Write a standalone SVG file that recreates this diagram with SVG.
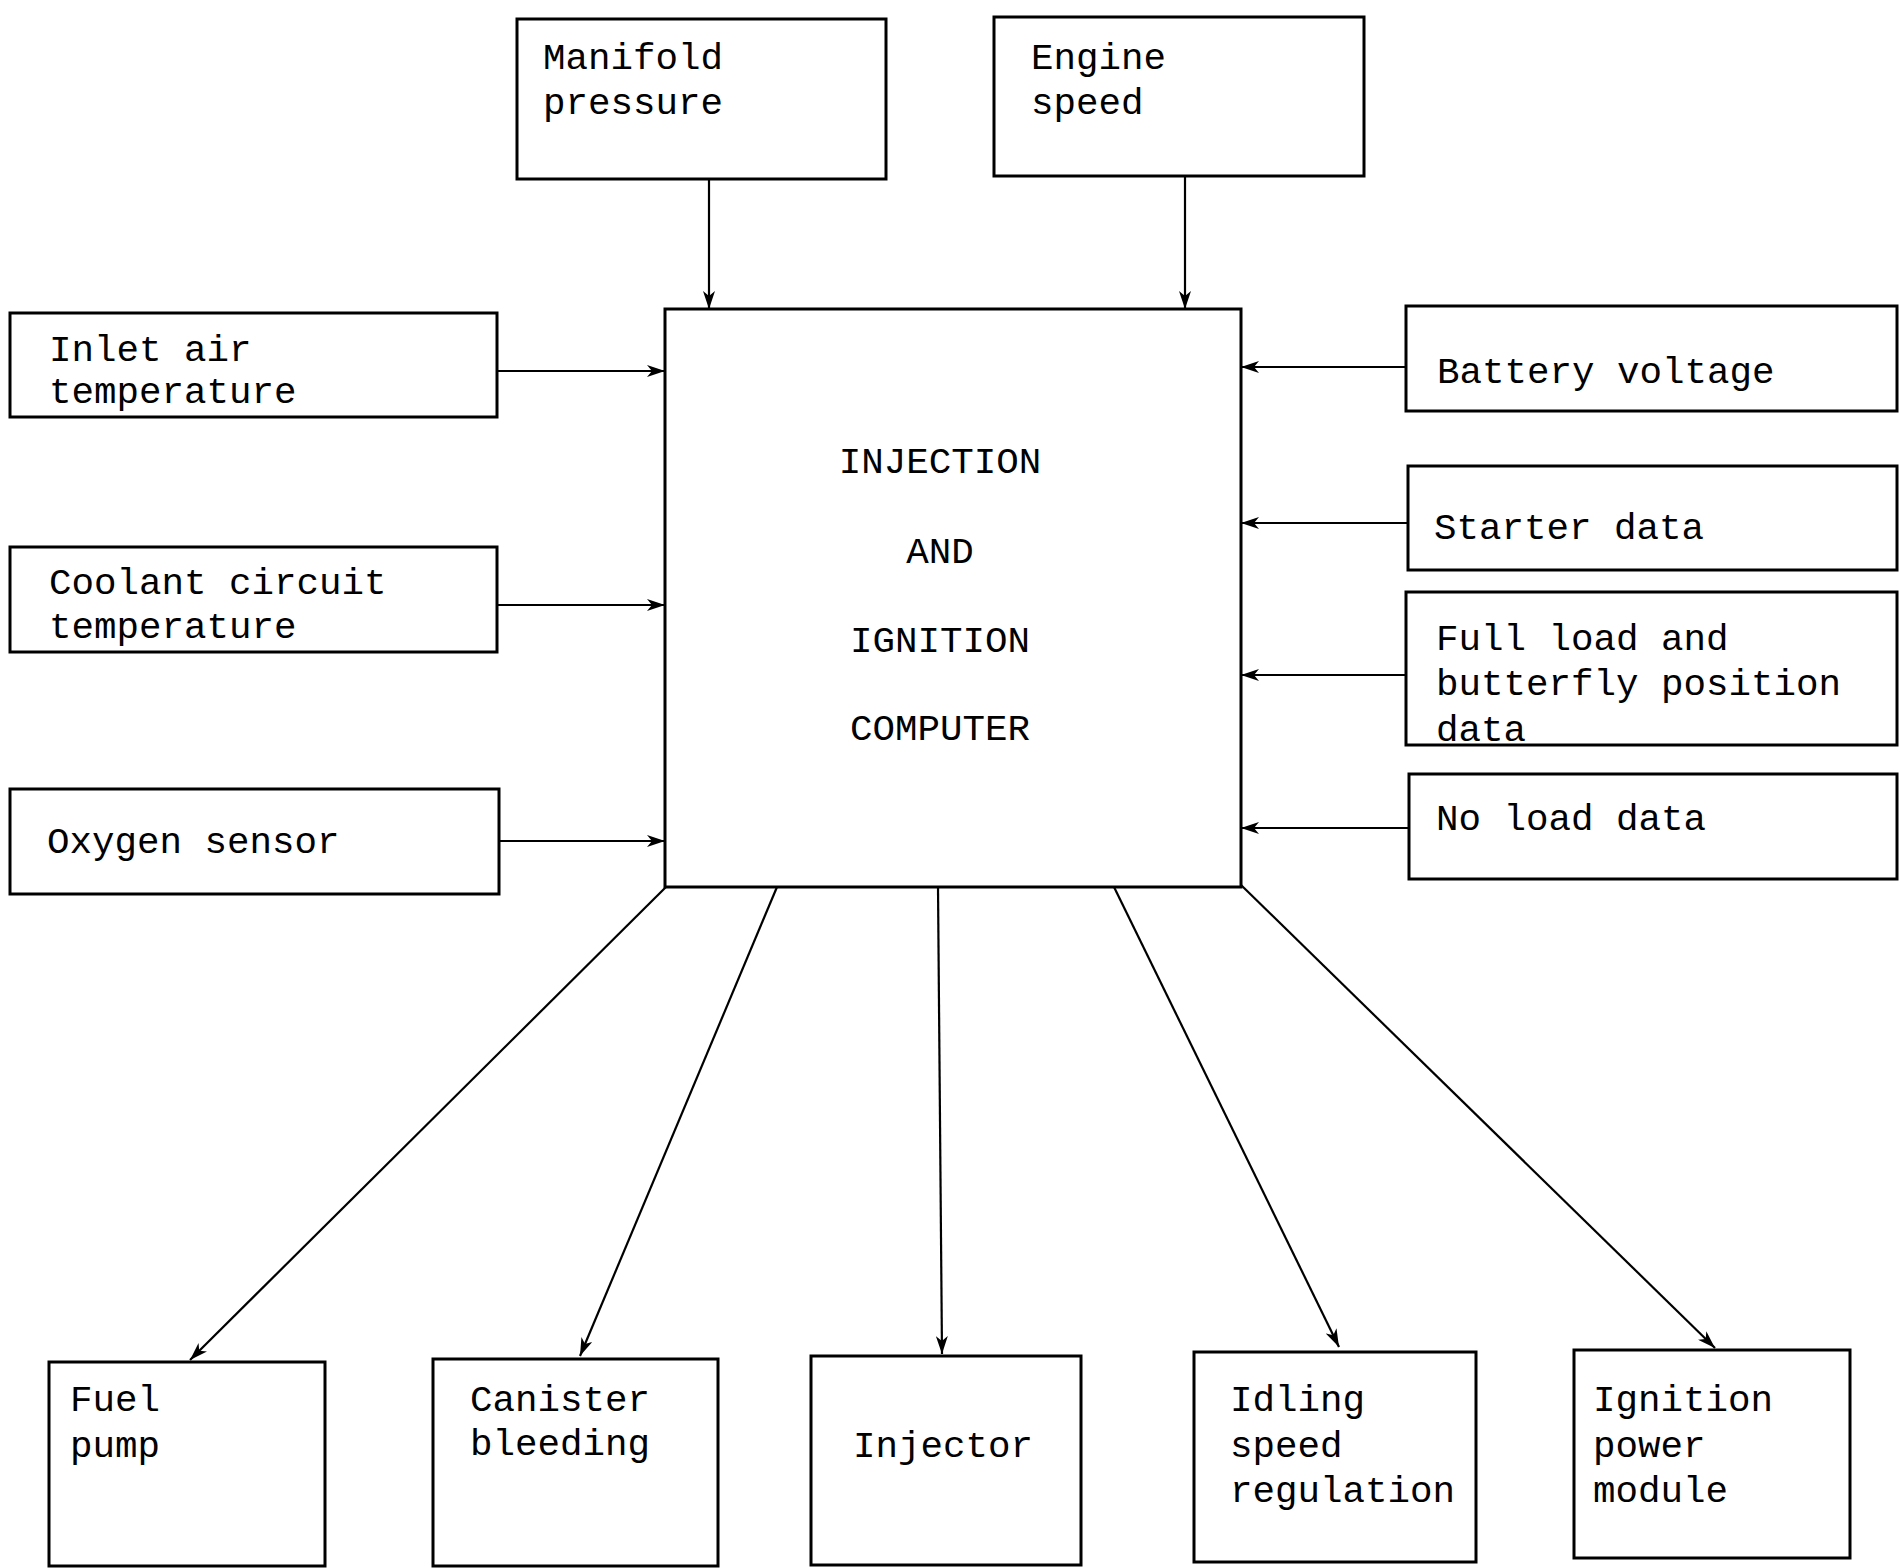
<svg xmlns="http://www.w3.org/2000/svg" width="1900" height="1568" viewBox="0 0 1900 1568">
<defs>
<style>
.box{fill:#fff;stroke:#000;stroke-width:3}
.t{font-family:"Liberation Mono","DejaVu Sans Mono",monospace;font-size:37.5px;fill:#000}
.c{text-anchor:middle}
.conn line{stroke:#000;stroke-width:2.2;fill:none}
</style>
<marker id="ah" markerUnits="userSpaceOnUse" markerWidth="20" markerHeight="12" refX="18" refY="6" orient="auto">
<path d="M0,0 L18,6 L0,12 L5,6 z" fill="#000"/>
</marker>
</defs>
<rect width="1900" height="1568" fill="#fff"/>
<g class="conn">
<line x1="709" y1="180" x2="709" y2="309" marker-end="url(#ah)"/>
<line x1="1185" y1="177" x2="1185" y2="309" marker-end="url(#ah)"/>
<line x1="498" y1="371" x2="665" y2="371" marker-end="url(#ah)"/>
<line x1="498" y1="605" x2="665" y2="605" marker-end="url(#ah)"/>
<line x1="500" y1="841" x2="665" y2="841" marker-end="url(#ah)"/>
<line x1="1406" y1="367" x2="1241" y2="367" marker-end="url(#ah)"/>
<line x1="1408" y1="523" x2="1241" y2="523" marker-end="url(#ah)"/>
<line x1="1406" y1="675" x2="1241" y2="675" marker-end="url(#ah)"/>
<line x1="1409" y1="828" x2="1241" y2="828" marker-end="url(#ah)"/>
<line x1="666" y1="887" x2="190" y2="1360" marker-end="url(#ah)"/>
<line x1="777" y1="887" x2="580" y2="1356" marker-end="url(#ah)"/>
<line x1="938" y1="887" x2="942" y2="1354" marker-end="url(#ah)"/>
<line x1="1114" y1="887" x2="1339" y2="1347" marker-end="url(#ah)"/>
<line x1="1241" y1="885" x2="1715" y2="1348" marker-end="url(#ah)"/>
</g>
<g id="manifold"><rect class="box" x="517" y="19" width="369" height="160"/><text class="t" x="543" y="69">Manifold</text><text class="t" x="543" y="114">pressure</text></g>
<g id="engine"><rect class="box" x="994" y="17" width="370" height="159"/><text class="t" x="1031" y="69">Engine</text><text class="t" x="1031" y="114">speed</text></g>
<g id="computer"><rect class="box" x="665" y="309" width="576" height="578"/>
<text class="t c" x="940" y="473">INJECTION</text><text class="t c" x="940" y="563">AND</text><text class="t c" x="940" y="652">IGNITION</text><text class="t c" x="940" y="740">COMPUTER</text></g>
<g id="inlet"><rect class="box" x="10" y="313" width="487" height="104"/><text class="t" x="49" y="361">Inlet air</text><text class="t" x="49" y="403">temperature</text></g>
<g id="coolant"><rect class="box" x="10" y="547" width="487" height="105"/><text class="t" x="49" y="594">Coolant circuit</text><text class="t" x="49" y="638">temperature</text></g>
<g id="oxygen"><rect class="box" x="10" y="789" width="489" height="105"/><text class="t" x="47" y="853">Oxygen sensor</text></g>
<g id="battery"><rect class="box" x="1406" y="306" width="491" height="105"/><text class="t" x="1437" y="383">Battery voltage</text></g>
<g id="starter"><rect class="box" x="1408" y="466" width="489" height="104"/><text class="t" x="1434" y="539">Starter data</text></g>
<g id="fullload"><rect class="box" x="1406" y="592" width="491" height="153"/><text class="t" x="1436" y="650">Full load and</text><text class="t" x="1436" y="695">butterfly position</text><text class="t" x="1436" y="741">data</text></g>
<g id="noload"><rect class="box" x="1409" y="774" width="488" height="105"/><text class="t" x="1436" y="830">No load data</text></g>
<g id="fuelpump"><rect class="box" x="49" y="1362" width="276" height="204"/><text class="t" x="70" y="1411">Fuel</text><text class="t" x="70" y="1457">pump</text></g>
<g id="canister"><rect class="box" x="433" y="1359" width="285" height="207"/><text class="t" x="470" y="1411">Canister</text><text class="t" x="470" y="1455">bleeding</text></g>
<g id="injector"><rect class="box" x="811" y="1356" width="270" height="209"/><text class="t" x="853" y="1457">Injector</text></g>
<g id="idling"><rect class="box" x="1194" y="1352" width="282" height="210"/><text class="t" x="1230" y="1411">Idling</text><text class="t" x="1230" y="1457">speed</text><text class="t" x="1230" y="1502">regulation</text></g>
<g id="ignition"><rect class="box" x="1574" y="1350" width="276" height="208"/><text class="t" x="1593" y="1411">Ignition</text><text class="t" x="1593" y="1457">power</text><text class="t" x="1593" y="1502">module</text></g>
</svg>
